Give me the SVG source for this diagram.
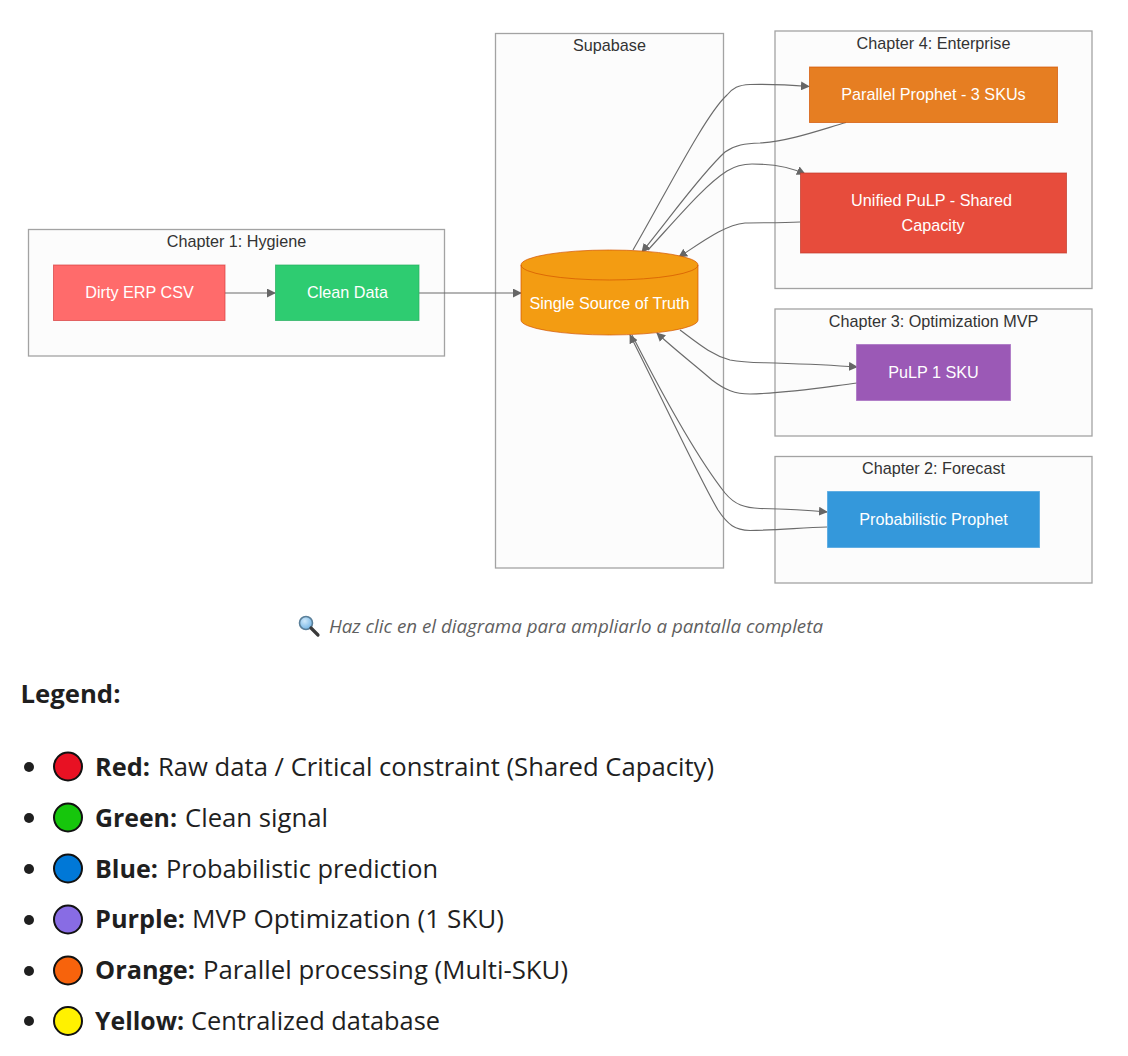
<svg xmlns="http://www.w3.org/2000/svg" width="1128" height="1056" viewBox="0 0 1128 1056">
<style>
.bg{fill:#fff}
.cluster{fill:#fcfcfc;stroke:#a3a3a3;stroke-width:1.3}
.ct{font-family:"Liberation Sans",Arial,sans-serif;font-size:16.2px;fill:#333;text-anchor:middle}
.nt{font-family:"Liberation Sans",Arial,sans-serif;font-size:16.2px;fill:#fff;text-anchor:middle}
.edge{fill:none;stroke:#6b6b6b;stroke-width:1.15;marker-end:url(#arrow)}
.node{stroke-opacity:.7}
.body{font-family:"Open Sans","Noto Sans",sans-serif;font-size:25.5px;fill:#1f1f1f}
.bold{font-weight:700}
.dot{stroke:#111;stroke-width:2}
.bullet{fill:#1f1f1f}
.cap{font-family:"Open Sans","Noto Sans",sans-serif;font-size:18.5px;font-style:italic;fill:#5f5f5f}
</style>
<defs>
<marker id="arrow" viewBox="0 0 10 10" refX="9" refY="5" markerWidth="9" markerHeight="9" markerUnits="userSpaceOnUse" orient="auto"><path d="M0 0L10 5L0 10z" fill="#666"/></marker>
<radialGradient id="glass" cx="40%" cy="35%" r="70%"><stop offset="0" stop-color="#cfe9fb"/><stop offset="1" stop-color="#6fb2e3"/></radialGradient>
</defs>
<rect class="bg" width="1128" height="1056"/>
<g id="clusters">
<g id="cluster-ch1"><rect class="cluster" x="28.500" y="229.500" width="416" height="126.500"/><text class="ct" x="236.500" y="246.500">Chapter 1: Hygiene</text></g>
<g id="cluster-supabase"><rect class="cluster" x="495.500" y="33.500" width="228" height="534.500"/><text class="ct" x="609.500" y="50.500">Supabase</text></g>
<g id="cluster-ch4"><rect class="cluster" x="775" y="31" width="317" height="257.500"/><text class="ct" x="933.500" y="48.500">Chapter 4: Enterprise</text></g>
<g id="cluster-ch3"><rect class="cluster" x="775" y="309" width="317" height="127"/><text class="ct" x="933.500" y="326.500">Chapter 3: Optimization MVP</text></g>
<g id="cluster-ch2"><rect class="cluster" x="775" y="456.500" width="317" height="126.500"/><text class="ct" x="933.500" y="473.500">Chapter 2: Forecast</text></g>
</g>
<g id="connectors">
<path class="edge" d="M225 293H275"/>
<path class="edge" d="M419 293H521"/>
<path class="edge" d="M633 250C665 195 705 115 727 95C733 88 738 85 750 84.500C770 84 790 85 809 86.500"/>
<path class="edge" d="M846 122.500C820 130 790 141 760 143C745 143.500 735 145 725 152C700 175 670 218 642 252"/>
<path class="edge" d="M648 250C680 215 705 185 727 171C735 166 742 164 752 164C775 164 790 167 805 174"/>
<path class="edge" d="M800 222C780 223 760 222.500 745 223C725 225 705 240 679 257"/>
<path class="edge" d="M680 330C700 345 712 355 730 360C745 363 760 362.500 775 363C805 364 830 365 857 367"/>
<path class="edge" d="M857 383C825 387 790 393 750 394C735 394 725 390 712 380C695 365 675 350 657 333"/>
<path class="edge" d="M632 335C660 390 695 455 725 493C735 505 745 508 760 508.500C785 509 805 510 827 512"/>
<path class="edge" d="M827 527C800 528 775 530 750 530.500C735 530 728 525 718 510C700 480 662 398 630 335"/>
</g>
<g id="node-dirty"><rect class="node" x="53.500" y="265" width="171.500" height="55.500" fill="#ff6b6b" stroke="#d63f3f"/><text class="nt" x="139.500" y="298">Dirty ERP CSV</text></g>
<g id="node-clean"><rect class="node" x="275.500" y="265" width="143.500" height="55.500" fill="#2ecc71" stroke="#27ae60"/><text class="nt" x="347.500" y="298">Clean Data</text></g>
<g id="node-sot"><path class="node" d="M521 265A88.500 15 0 0 1 698 265V320A88.500 15 0 0 1 521 320Z" fill="#f39c12" stroke="#d35400"/><path class="node" d="M521 265A88.500 15 0 0 0 698 265" fill="none" stroke="#d35400"/><text class="nt" x="609.500" y="309">Single Source of Truth</text></g>
<g id="node-parallel"><rect class="node" x="809.500" y="67" width="248" height="55.500" fill="#e67e22" stroke="#d35400"/><text class="nt" x="933.500" y="100">Parallel Prophet - 3 SKUs</text></g>
<g id="node-unified"><rect class="node" x="800.500" y="173" width="266" height="80" fill="#e74c3c" stroke="#c0392b"/><text class="nt" x="931.500" y="206">Unified PuLP - Shared</text><text class="nt" x="933" y="231">Capacity</text></g>
<g id="node-pulp"><rect class="node" x="856.500" y="344.500" width="154" height="56" fill="#9b59b6" stroke="#a56cc1"/><text class="nt" x="933.500" y="378">PuLP 1 SKU</text></g>
<g id="node-prob"><rect class="node" x="827.500" y="491.500" width="212" height="56" fill="#3498db" stroke="#4aa3df"/><text class="nt" x="933.500" y="525">Probabilistic Prophet</text></g>
<g id="caption">
<circle cx="306" cy="623" r="6.500" fill="url(#glass)" stroke="#5a7f99" stroke-width="1.600"/>
<path d="M311 628L318 635" stroke="#3a3a3a" stroke-width="3.200" stroke-linecap="round"/>
<text class="cap" x="329" y="633" textLength="494" lengthAdjust="spacingAndGlyphs">Haz clic en el diagrama para ampliarlo a pantalla completa</text>
</g>
<g id="legend">
<text class="body bold" x="20.500" y="703" textLength="100" lengthAdjust="spacingAndGlyphs">Legend:</text>
<circle class="bullet" cx="29" cy="767" r="5"/><circle class="dot" cx="68" cy="766.500" r="14" fill="#e81123"/>
<text class="body bold" x="95" y="776" textLength="55" lengthAdjust="spacingAndGlyphs">Red:</text><text class="body" x="158" y="776" textLength="556" lengthAdjust="spacingAndGlyphs">Raw data / Critical constraint (Shared Capacity)</text>
<circle class="bullet" cx="29" cy="818" r="5"/><circle class="dot" cx="68" cy="817.500" r="14" fill="#16c60c"/>
<text class="body bold" x="95" y="827" textLength="82" lengthAdjust="spacingAndGlyphs">Green:</text><text class="body" x="185" y="827" textLength="143" lengthAdjust="spacingAndGlyphs">Clean signal</text>
<circle class="bullet" cx="29" cy="869" r="5"/><circle class="dot" cx="68" cy="868.500" r="14" fill="#0078d7"/>
<text class="body bold" x="95" y="878" textLength="63" lengthAdjust="spacingAndGlyphs">Blue:</text><text class="body" x="166" y="878" textLength="272" lengthAdjust="spacingAndGlyphs">Probabilistic prediction</text>
<circle class="bullet" cx="29" cy="920" r="5"/><circle class="dot" cx="68" cy="919.500" r="14" fill="#886ce4"/>
<text class="body bold" x="95" y="928" textLength="90" lengthAdjust="spacingAndGlyphs">Purple:</text><text class="body" x="192" y="928" textLength="312" lengthAdjust="spacingAndGlyphs">MVP Optimization (1 SKU)</text>
<circle class="bullet" cx="29" cy="971" r="5"/><circle class="dot" cx="68" cy="970.500" r="14" fill="#f7630c"/>
<text class="body bold" x="95" y="979" textLength="100" lengthAdjust="spacingAndGlyphs">Orange:</text><text class="body" x="203" y="979" textLength="365" lengthAdjust="spacingAndGlyphs">Parallel processing (Multi-SKU)</text>
<circle class="bullet" cx="29" cy="1021" r="5"/><circle class="dot" cx="68" cy="1021" r="14" fill="#fff100"/>
<text class="body bold" x="95" y="1030" textLength="89" lengthAdjust="spacingAndGlyphs">Yellow:</text><text class="body" x="191" y="1030" textLength="249" lengthAdjust="spacingAndGlyphs">Centralized database</text>
</g>
</svg>
